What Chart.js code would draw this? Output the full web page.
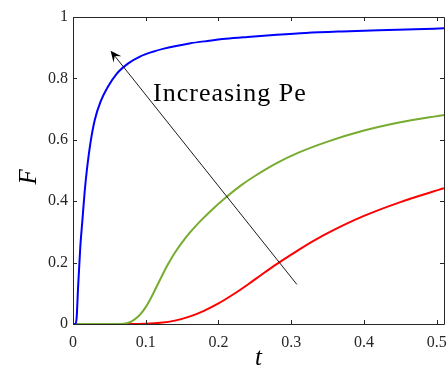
<!DOCTYPE html>
<html>
<head>
<meta charset="utf-8">
<script src="https://cdn.jsdelivr.net/npm/chart.js@4.4.1/dist/chart.umd.min.js"></script>
<style>
  html, body { margin: 0; padding: 0; background: #fff; }
  #wrap { width: 448px; height: 367px; }
</style>
</head>
<body>
<div id="wrap"><canvas id="residenceChart"></canvas></div>
<script>
// curves (t, F)
const blueT = [0, 0.003, 0.005, 0.007, 0.010, 0.013, 0.016, 0.019, 0.024, 0.030, 0.038, 0.048, 0.060, 0.076, 0.092, 0.110, 0.125, 0.140, 0.160, 0.185, 0.210, 0.240, 0.280, 0.320, 0.370, 0.420, 0.470, 0.510];
const blueF = [0, 0, 0.02, 0.12, 0.25, 0.34, 0.43, 0.50, 0.59, 0.665, 0.725, 0.773, 0.815, 0.849, 0.871, 0.887, 0.897, 0.905, 0.914, 0.922, 0.929, 0.935, 0.942, 0.948, 0.953, 0.957, 0.960, 0.963];

const greenT = [0, 0.060, 0.070, 0.080, 0.090, 0.100, 0.110, 0.120, 0.130, 0.140, 0.150, 0.160, 0.175, 0.190, 0.210, 0.230, 0.250, 0.280, 0.310, 0.350, 0.400, 0.450, 0.510];
const greenF = [0, 0, 0.001, 0.008, 0.025, 0.055, 0.098, 0.146, 0.192, 0.232, 0.266, 0.296, 0.335, 0.370, 0.412, 0.450, 0.482, 0.524, 0.558, 0.594, 0.630, 0.657, 0.681];

const redT = [0, 0.080, 0.100, 0.120, 0.140, 0.160, 0.180, 0.200, 0.220, 0.240, 0.260, 0.280, 0.300, 0.330, 0.360, 0.400, 0.450, 0.510];
const redF = [0, 0, 0.001, 0.004, 0.011, 0.024, 0.043, 0.067, 0.096, 0.128, 0.162, 0.195, 0.226, 0.270, 0.308, 0.352, 0.397, 0.442];

const xTicks = [0, 0.1, 0.2, 0.3, 0.4, 0.5];
const yTicks = [0, 0.2, 0.4, 0.6, 0.8, 1];

// annotation arrow (data units): tail -> head
const arrowFrom = [0.3077, 0.129];
const arrowTo = [0.0517, 0.89];
const noteText = 'Increasing Pe';
const notePos = [0.110, 0.726];

const serif = '"Liberation Serif", "DejaVu Serif", serif';
const axisColor = '#262626';

function toPoints(xs, ys) {
    return xs.map((x, i) => ({ x: x, y: ys[i] }));
}

// box, inward ticks, arrow and note, MATLAB style
const decorPlugin = {
    id: 'decor',
    afterDatasetsDraw(chart) {
        const c = chart.ctx;
        const a = chart.chartArea;
        const xs = chart.scales.x;
        const ys = chart.scales.y;
        const tl = 4;
        c.save();
        c.strokeStyle = axisColor;
        c.lineWidth = 1;
        c.beginPath();
        c.rect(Math.round(a.left) + 0.5, Math.round(a.top) + 0.5, Math.round(a.right - a.left), Math.round(a.bottom - a.top));
        c.stroke();
        c.beginPath();
        xTicks.forEach(v => {
            const px = Math.round(xs.getPixelForValue(v)) + 0.5;
            c.moveTo(px, a.bottom); c.lineTo(px, a.bottom - tl);
            c.moveTo(px, a.top); c.lineTo(px, a.top + tl);
        });
        yTicks.forEach(v => {
            const py = Math.round(ys.getPixelForValue(v)) + 0.5;
            c.moveTo(a.left, py); c.lineTo(a.left + tl, py);
            c.moveTo(a.right, py); c.lineTo(a.right - tl, py);
        });
        c.stroke();

        // arrow
        const x0 = xs.getPixelForValue(arrowFrom[0]), y0 = ys.getPixelForValue(arrowFrom[1]);
        const x1 = xs.getPixelForValue(arrowTo[0]), y1 = ys.getPixelForValue(arrowTo[1]);
        const ang = Math.atan2(y1 - y0, x1 - x0);
        const hl = 11, hw = 5;
        const cs = Math.cos(ang), sn = Math.sin(ang);
        c.strokeStyle = '#000';
        c.lineWidth = 0.9;
        c.beginPath();
        c.moveTo(x0, y0);
        c.lineTo(x1 - cs * hl * 0.6, y1 - sn * hl * 0.6);
        c.stroke();
        c.fillStyle = '#000';
        c.beginPath();
        c.moveTo(x1, y1);
        c.lineTo(x1 - cs * hl - sn * hw, y1 - sn * hl + cs * hw);
        c.lineTo(x1 - cs * hl * 0.6, y1 - sn * hl * 0.6);
        c.lineTo(x1 - cs * hl + sn * hw, y1 - sn * hl - cs * hw);
        c.closePath();
        c.fill();

        // note
        c.font = '26px ' + serif;
        c.letterSpacing = '1px';
        c.fillStyle = '#000';
        c.textAlign = 'left';
        c.textBaseline = 'alphabetic';
        c.fillText(noteText, xs.getPixelForValue(notePos[0]), ys.getPixelForValue(notePos[1]));
        c.restore();
    }
};

new Chart(document.getElementById('residenceChart'), {
    type: 'line',
    data: {
        datasets: [
            { data: toPoints(blueT, blueF), borderColor: '#0000ff' },
            { data: toPoints(greenT, greenF), borderColor: '#77ac30' },
            { data: toPoints(redT, redF), borderColor: '#ff0000' }
        ]
    },
    options: {
        responsive: true,
        maintainAspectRatio: false,
        animation: false,
        layout: { padding: { top: 17, right: 4, left: 0, bottom: 0 } },
        elements: {
            point: { radius: 0 },
            line: { borderWidth: 2, cubicInterpolationMode: 'monotone', fill: false }
        },
        plugins: {
            legend: { display: false },
            tooltip: { enabled: false }
        },
        scales: {
            x: {
                type: 'linear',
                min: 0,
                max: 0.51,
                afterFit(scale) {
                    scale.height = 43;
                    scale.paddingLeft = 0;
                    scale.paddingRight = 0;
                },
                afterBuildTicks(scale) { scale.ticks = xTicks.map(v => ({ value: v })); },
                ticks: {
                    color: axisColor,
                    padding: 9,
                    maxRotation: 0,
                    callback: v => String(v),
                    font: { family: serif, size: 16 }
                },
                grid: { display: false, drawTicks: false },
                border: { display: false },
                title: {
                    display: true,
                    text: 't',
                    color: '#000',
                    padding: { top: 0, bottom: 0 },
                    font: { family: serif, size: 25, style: 'italic', lineHeight: 0.65 }
                }
            },
            y: {
                type: 'linear',
                min: 0,
                max: 1,
                afterFit(scale) {
                    scale.width = 73;
                    scale.paddingTop = 0;
                    scale.paddingBottom = 0;
                },
                afterBuildTicks(scale) { scale.ticks = yTicks.map(v => ({ value: v })); },
                ticks: {
                    color: axisColor,
                    padding: 5,
                    callback: v => String(v),
                    font: { family: serif, size: 16 }
                },
                grid: { display: false, drawTicks: false },
                border: { display: false },
                title: {
                    display: true,
                    text: 'F  ',
                    color: '#000',
                    padding: { top: 17, bottom: 0 },
                    font: { family: serif, size: 25, style: 'italic', lineHeight: 1 }
                }
            }
        }
    },
    plugins: [decorPlugin]
});
</script>
</body>
</html>
